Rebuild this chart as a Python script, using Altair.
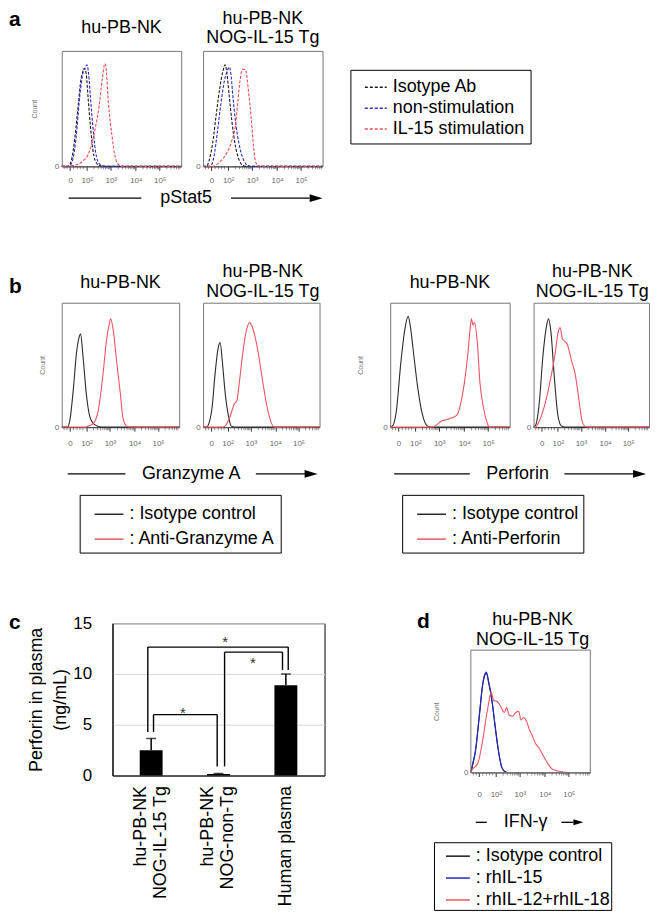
import json
import math
import altair as alt
import pandas as pd

FONT = "Liberation Sans"

# ---------------- flow cytometry axis (biexponential display, fraction of axis) ----
FLOW_TICKS = [0.07, 0.21, 0.41, 0.62, 0.82]
FLOW_TICK_LABELS = ["0", "10²", "10³", "10⁴", "10⁵"]
FLOW_MINOR = [0.02, 0.045, 0.1, 0.13, 0.155, 0.18]
for _start, _w in [(0.21, 0.2), (0.41, 0.21), (0.62, 0.2), (0.82, 0.2)]:
    for _k in range(2, 10):
        _p = _start + _w * math.log10(_k)
        if _p < 0.99:
            FLOW_MINOR.append(round(_p, 3))

# ---------------- panel a : pStat5 ----------------
A_SERIES = ["Isotype Ab", "non-stimulation", "IL-15 stimulation"]
A_COLORS = ["#1a1a1a", "#2a2ad0", "#ee4b57"]
A1_ISOTYPE = [[0, 0], [0.05, 0], [0.08, 0.05], [0.11, 0.25], [0.14, 0.55], [0.16, 0.75], [0.18, 0.83],
              [0.19, 0.85], [0.205, 0.8], [0.22, 0.6], [0.24, 0.35], [0.26, 0.15], [0.28, 0.05],
              [0.31, 0.01], [0.35, 0], [1, 0]]
A1_NONSTIM = [[0, 0], [0.06, 0], [0.09, 0.05], [0.12, 0.25], [0.15, 0.6], [0.18, 0.82], [0.2, 0.86],
              [0.21, 0.88], [0.225, 0.8], [0.24, 0.6], [0.26, 0.35], [0.28, 0.15], [0.3, 0.05],
              [0.33, 0.01], [0.38, 0], [1, 0]]
A1_IL15 = [[0, 0], [0.11, 0.01], [0.18, 0.05], [0.22, 0.1], [0.25, 0.19], [0.28, 0.33], [0.31, 0.5],
           [0.34, 0.76], [0.36, 0.89], [0.37, 0.86], [0.39, 0.56], [0.42, 0.27], [0.45, 0.07],
           [0.48, 0.01], [0.5, 0], [1, 0]]
A2_ISOTYPE = [[0, 0], [0.03, 0], [0.05, 0.05], [0.08, 0.2], [0.11, 0.45], [0.14, 0.68], [0.165, 0.82],
              [0.185, 0.88], [0.2, 0.8], [0.22, 0.6], [0.24, 0.4], [0.27, 0.18], [0.3, 0.06],
              [0.33, 0.01], [0.36, 0], [1, 0]]
A2_NONSTIM = [[0, 0], [0.06, 0], [0.09, 0.08], [0.12, 0.3], [0.15, 0.55], [0.18, 0.75], [0.2, 0.82],
              [0.22, 0.86], [0.235, 0.78], [0.25, 0.6], [0.27, 0.4], [0.3, 0.2], [0.33, 0.08],
              [0.36, 0.02], [0.4, 0], [1, 0]]
A2_IL15 = [[0, 0], [0.08, 0], [0.14, 0.04], [0.2, 0.12], [0.24, 0.22], [0.27, 0.35], [0.29, 0.55],
           [0.31, 0.75], [0.33, 0.84], [0.35, 0.84], [0.36, 0.82], [0.38, 0.65], [0.4, 0.45],
           [0.42, 0.2], [0.435, 0.06], [0.455, 0.01], [0.48, 0], [1, 0]]

# ---------------- panel b : Granzyme A / Perforin ----------------
B_GZMA_SERIES = ["Isotype control", "Anti-Granzyme A"]
B_PRF_SERIES = ["Isotype control", "Anti-Perforin"]
B_COLORS = ["#2b2b2b", "#ee5560"]
B1_ISOTYPE = [[0, 0], [0.05, 0], [0.07, 0.06], [0.1, 0.32], [0.127, 0.61], [0.15, 0.73], [0.16, 0.75],
              [0.18, 0.58], [0.21, 0.26], [0.24, 0.08], [0.28, 0.02], [0.34, 0], [1, 0]]
B1_GZMA = [[0, 0], [0.2, 0], [0.23, 0.01], [0.27, 0.03], [0.31, 0.13], [0.354, 0.45], [0.38, 0.69],
           [0.405, 0.83], [0.416, 0.87], [0.44, 0.77], [0.467, 0.53], [0.5, 0.26], [0.52, 0.08],
           [0.55, 0.01], [0.58, 0], [1, 0]]
B2_ISOTYPE = [[0, 0], [0.03, 0], [0.05, 0.03], [0.08, 0.18], [0.1, 0.4], [0.13, 0.64], [0.146, 0.68],
              [0.165, 0.53], [0.19, 0.27], [0.22, 0.08], [0.24, 0.01], [0.27, 0], [1, 0]]
B2_GZMA = [[0, 0], [0.17, 0], [0.19, 0.01], [0.23, 0.08], [0.27, 0.19], [0.29, 0.21], [0.31, 0.35],
           [0.34, 0.59], [0.37, 0.77], [0.4, 0.84], [0.41, 0.83], [0.455, 0.69], [0.48, 0.56],
           [0.52, 0.32], [0.55, 0.16], [0.58, 0.05], [0.61, 0], [1, 0]]
B3_ISOTYPE = [[0, 0], [0.02, 0.01], [0.05, 0.12], [0.09, 0.53], [0.12, 0.77], [0.15, 0.89], [0.17, 0.8],
              [0.19, 0.64], [0.23, 0.32], [0.27, 0.1], [0.31, 0.01], [0.34, 0], [1, 0]]
B3_PRF = [[0, 0], [0.36, 0], [0.39, 0.02], [0.43, 0.05], [0.47, 0.06], [0.5, 0.07], [0.53, 0.08],
          [0.56, 0.1], [0.59, 0.19], [0.62, 0.35], [0.65, 0.59], [0.67, 0.8], [0.68, 0.87],
          [0.693, 0.82], [0.705, 0.84], [0.73, 0.67], [0.75, 0.37], [0.78, 0.16], [0.81, 0.04],
          [0.83, 0], [1, 0]]
B4_ISOTYPE = [[0, 0], [0.02, 0.02], [0.05, 0.2], [0.08, 0.56], [0.11, 0.8], [0.13, 0.87], [0.15, 0.77],
              [0.18, 0.4], [0.21, 0.1], [0.24, 0.01], [0.27, 0], [1, 0]]
B4_PRF = [[0, 0], [0.02, 0], [0.04, 0.03], [0.1, 0.19], [0.15, 0.4], [0.19, 0.61], [0.21, 0.75],
          [0.23, 0.8], [0.25, 0.71], [0.27, 0.69], [0.29, 0.67], [0.33, 0.53], [0.36, 0.43],
          [0.39, 0.24], [0.42, 0.05], [0.44, 0.01], [0.47, 0], [1, 0]]

# ---------------- panel c : perforin in plasma ----------------
C_CATEGORIES = [["hu-PB-NK", "NOG-IL-15 Tg"], ["hu-PB-NK", "NOG-non-Tg"], ["Human plasma"]]
C_MEANS = [2.5, 0.15, 8.9]
C_UPPER = [3.65, 0.2, 10.0]
C_BRACKET_LEFT = [0.035, 1.09, -0.05]
C_BRACKET_RIGHT = [0.98, 1.95, 2.035]
C_BRACKET_TOP = [6.0, 12.15, 12.65]
C_BRACKET_LEFT_END = [4.3, 0.9, 4.3]
C_BRACKET_RIGHT_END = [0.9, 10.4, 10.4]
C_STAR_X = [0.47, 1.51, 1.1]
C_STAR_Y = [5.64, 10.64, 12.7]

# ---------------- panel d : IFN-gamma ----------------
D_SERIES = ["Isotype control", "rhIL-15", "rhIL-12+rhIL-18"]
D_COLORS = ["#1a1a1a", "#2525c8", "#ee5560"]
D_ISOTYPE = [[0, 0], [0.01, 0.04], [0.04, 0.18], [0.07, 0.45], [0.1, 0.72], [0.12, 0.8], [0.13, 0.81],
             [0.15, 0.73], [0.18, 0.56], [0.2, 0.4], [0.23, 0.18], [0.26, 0.04], [0.29, 0.005],
             [0.32, 0], [1, 0]]
D_IL15 = [[0, 0], [0.01, 0.05], [0.04, 0.19], [0.07, 0.46], [0.1, 0.73], [0.12, 0.81], [0.13, 0.82],
          [0.15, 0.74], [0.18, 0.57], [0.2, 0.41], [0.23, 0.19], [0.26, 0.04], [0.29, 0.005],
          [0.32, 0], [1, 0]]
D_IL12_18 = [[0, 0], [0.01, 0.02], [0.06, 0.08], [0.1, 0.27], [0.13, 0.46], [0.15, 0.57], [0.17, 0.66],
             [0.19, 0.59], [0.22, 0.58], [0.25, 0.54], [0.28, 0.49], [0.3, 0.53], [0.32, 0.47],
             [0.35, 0.46], [0.375, 0.49], [0.4, 0.5], [0.42, 0.43], [0.44, 0.45], [0.47, 0.41],
             [0.49, 0.35], [0.51, 0.31], [0.54, 0.24], [0.57, 0.2], [0.6, 0.15], [0.64, 0.08],
             [0.68, 0.03], [0.74, 0.01], [0.82, 0], [1, 0]]

TITLE_1 = ["hu-PB-NK"]
TITLE_2 = ["hu-PB-NK", "NOG-IL-15 Tg"]

TICK_EXPR = ("[" + ",".join("'%s'" % t for t in FLOW_TICK_LABELS) + "]"
             + "[indexof(" + json.dumps(FLOW_TICKS) + ", datum.value)]")
CAT_EXPR = json.dumps(C_CATEGORIES) + "[datum.value]"
NOSTROKE = alt.ViewBackground(stroke="transparent")


def one(field="r", value=0):
    return pd.DataFrame({field: [value]})


def txt(text, x, y, size=18, weight="normal", align="center", baseline="alphabetic", color="black"):
    return alt.Chart(pd.DataFrame({"t": [text]})).mark_text(
        fontSize=size, fontWeight=weight, align=align, baseline=baseline, color=color
    ).encode(text="t:N", x=alt.value(x), y=alt.value(y))


def hrule(x1, x2, y, width=1.3):
    return alt.Chart(one()).mark_rule(color="black", strokeWidth=width).encode(
        x=alt.value(x1), x2=alt.value(x2), y=alt.value(y))


def arrowhead(x, y, size=169):
    return alt.Chart(one()).mark_point(
        shape="M-1,-0.6L1,0L-1,0.6Z", size=size, filled=True, color="black", opacity=1
    ).encode(x=alt.value(x), y=alt.value(y))


def titles(lines, cx, y_last):
    n = len(lines)
    return [txt(t, cx, y_last - 20 * (n - 1 - i)) for i, t in enumerate(lines)]


def letter(ch, width, y):
    return txt(ch, 0, y, size=21, weight="bold", align="left").properties(
        width=width, height=10, view=NOSTROKE)


def spacer(width, height=10):
    return alt.Chart(one()).mark_point(opacity=0).encode(
        x=alt.value(0), y=alt.value(0)).properties(width=width, height=height, view=NOSTROKE)


def line_legend(x, y, size, row_pad, pad, sym_off=0, dash=False, colon=False, font_size=18,
                trail=0):
    kw = dict(orient="none", legendX=x, legendY=y, title=None, symbolType="stroke",
              symbolSize=size, symbolStrokeWidth=1.5, labelFontSize=font_size, labelFont=FONT,
              labelColor="black", strokeColor="black", padding=pad, rowPadding=row_pad,
              labelLimit=400, labelOffset=5, symbolOffset=sym_off)
    if dash:
        kw["symbolDash"] = [3, 2]
    expr = "datum.label"
    if colon:
        expr = "': ' + " + expr
    if trail:
        expr = expr + " + '" + "\u00a0" * trail + "'"
    if colon or trail:
        kw["labelExpr"] = expr
    return alt.Legend(**kw)


def flow_panel(curves, names, colors, width, height, dash=False, count_pad=None, count_y=None,
               legend=None, label_pad=6, layers=(), y_max=1.0, own_box=False):
    rows = []
    for name, pts in zip(names, curves):
        for x, y in pts:
            rows.append({"series": name, "x": x, "y": y})
    df = pd.DataFrame(rows)
    xscale = alt.Scale(domain=[0, 1], nice=False, zero=False)
    yscale = alt.Scale(domain=[0, y_max], nice=False)
    xaxis = alt.Axis(values=FLOW_TICKS, labelExpr=TICK_EXPR, title=None, grid=False,
                     labelFontSize=8, labelColor="#666", tickSize=4, tickColor="#333",
                     domainColor="#444", labelPadding=label_pad, labelFlush=False,
                     labelOverlap=False)
    ykw = dict(values=[0], labelFontSize=8, labelColor="#666", ticks=False, domain=False,
               grid=False, labelPadding=3)
    if count_pad is not None:
        ykw.update(title="Count", titleFontSize=7, titleColor="#777",
                   titleFontWeight="normal", titlePadding=count_pad)
        if count_y is not None:
            ykw["titleY"] = count_y
    else:
        ykw["title"] = None
    yaxis = alt.Axis(**ykw)
    mkw = dict(strokeWidth=1.1, interpolate="monotone")
    if dash:
        mkw["strokeDash"] = [3, 1.6]
    color = alt.Color("series:N", scale=alt.Scale(domain=names, range=colors), sort=names,
                      legend=legend)
    lines = alt.Chart(df).mark_line(**mkw).encode(
        x=alt.X("x:Q", scale=xscale, axis=xaxis),
        y=alt.Y("y:Q", scale=yscale, axis=yaxis),
        color=color,
    )
    minor = alt.Chart(pd.DataFrame({"x": FLOW_MINOR})).mark_tick(
        orient="vertical", size=3, thickness=0.8, color="#444"
    ).encode(x=alt.X("x:Q", scale=xscale, axis=xaxis), y=alt.value(height + 1.5))
    extra = []
    props = dict(width=width, height=height)
    if own_box:
        box = alt.Chart(pd.DataFrame({"x0": [0], "x1": [1], "y0": [0], "y1": [1]})).mark_rect(
            fillOpacity=0, stroke="#777", strokeWidth=1
        ).encode(x=alt.X("x0:Q", scale=xscale, axis=xaxis), x2="x1:Q",
                 y=alt.Y("y0:Q", scale=yscale, axis=yaxis), y2="y1:Q")
        extra.append(box)
        props["view"] = NOSTROKE
    return alt.layer(lines, minor, *extra, *layers).properties(**props)


# ---------------- build panels ----------------
a1 = flow_panel([A1_ISOTYPE, A1_NONSTIM, A1_IL15], A_SERIES, A_COLORS, 120, 116,
                dash=True, count_pad=17, label_pad=6,
                layers=titles(TITLE_1, 60, -18) + [
                    txt("pStat5", 125, 148, baseline="middle"), hrule(7, 80, 148),
                    hrule(170, 249, 148), arrowhead(255.5, 148)])
a2 = flow_panel([A2_ISOTYPE, A2_NONSTIM, A2_IL15], A_SERIES, A_COLORS, 120, 116,
                dash=True, label_pad=6,
                legend=line_legend(148, 19, 484, -2.5, 5.5, sym_off=8, dash=True, trail=1),
                layers=titles(TITLE_2, 60, -7.5))

b1 = flow_panel([B1_ISOTYPE, B1_GZMA], B_GZMA_SERIES, B_COLORS, 118, 125,
                count_pad=9, label_pad=8,
                legend=line_legend(18, 193, 841, -8, 4, sym_off=10, colon=True, trail=3),
                layers=titles(TITLE_1, 59, -15) + [
                    txt("Granzyme A", 130, 172, baseline="middle"), hrule(6, 64, 172),
                    hrule(195, 245, 172), arrowhead(250.5, 172)])
b2 = flow_panel([B2_ISOTYPE, B2_GZMA], B_GZMA_SERIES, B_COLORS, 117, 125, label_pad=8,
                layers=titles(TITLE_2, 60, -6))
b3 = flow_panel([B3_ISOTYPE, B3_PRF], B_PRF_SERIES, B_COLORS, 120, 125,
                count_pad=19, label_pad=8,
                legend=line_legend(12, 193, 841, -8, 4, sym_off=10, colon=True, trail=8),
                layers=titles(TITLE_1, 60, -15) + [
                    txt("Perforin", 128, 172, baseline="middle"), hrule(4, 80, 172),
                    hrule(175, 244, 172), arrowhead(250.5, 172)])
b4 = flow_panel([B4_ISOTYPE, B4_PRF], B_PRF_SERIES, B_COLORS, 116, 125, label_pad=8,
                layers=titles(TITLE_2, 59, -6))

# d: plot area extends 27 px above its frame so that it lines up with panel c
d = flow_panel([D_ISOTYPE, D_IL15, D_IL12_18], D_SERIES, D_COLORS, 120, 150,
               count_pad=24, count_y=88.5, label_pad=14, y_max=150 / 123, own_box=True,
               legend=line_legend(-37, 220, 576, -2, 1, sym_off=10, colon=True, trail=2),
               layers=titles(TITLE_2, 62, 22) + [
                   txt("d", -54, 5, size=21, weight="bold", align="left"),
                   hrule(5, 16, 200), txt("IFN-γ", 55, 200, baseline="middle"),
                   hrule(91, 103, 200), arrowhead(108, 200, size=100)])

# ---------------- panel c bar chart ----------------
c_df = pd.DataFrame({"idx": [0, 1, 2], "mean": C_MEANS, "upper": C_UPPER})
seg_rows = []
for xl, xr, top, le, re in zip(C_BRACKET_LEFT, C_BRACKET_RIGHT, C_BRACKET_TOP,
                               C_BRACKET_LEFT_END, C_BRACKET_RIGHT_END):
    seg_rows.append({"x": xl, "x2": xl, "y": le, "y2": top})
    seg_rows.append({"x": xl, "x2": xr, "y": top, "y2": top})
    seg_rows.append({"x": xr, "x2": xr, "y": re, "y2": top})
seg_df = pd.DataFrame(seg_rows)
star_df = pd.DataFrame({"x": C_STAR_X, "y": C_STAR_Y, "t": ["*"] * len(C_STAR_X)})

CX_SCALE = alt.Scale(domain=[-0.5, 2.5], nice=False, zero=False)
CY_SCALE = alt.Scale(domain=[0, 15], nice=False)
CX_AXIS = alt.Axis(values=[0, 1, 2], labelExpr=CAT_EXPR, labelAngle=270, labelAlign="right",
                   labelBaseline="middle", labelLineHeight=20, labelFontSize=18, labelColor="black",
                   labelPadding=10, ticks=False, grid=False, domainColor="black", title=None,
                   labelOverlap=False, labelBound=False, labelFlush=False,
                   labelOffset=alt.condition("datum.value == 2", alt.value(0), alt.value(-11)))
CY_AXIS = alt.Axis(values=[0, 5, 10, 15], grid=True, gridColor="#d9d9d9", ticks=False,
                   domainColor="black", labelFontSize=17, labelColor="black", labelPadding=21,
                   title=["Perforin in plasma", "(ng/mL)"], titleFontSize=18,
                   titleFontWeight="normal", titleColor="black", titlePadding=3,
                   titleLineHeight=24)

bars = alt.Chart(c_df).mark_bar(size=23, color="black").encode(
    x=alt.X("idx:Q", scale=CX_SCALE, axis=CX_AXIS),
    y=alt.Y("mean:Q", scale=CY_SCALE, axis=CY_AXIS))
err = alt.Chart(c_df).mark_rule(color="black", strokeWidth=1.5).encode(
    x=alt.X("idx:Q", scale=CX_SCALE, axis=CX_AXIS),
    y=alt.Y("mean:Q", scale=CY_SCALE, axis=CY_AXIS), y2="upper:Q")
cap = alt.Chart(c_df).mark_tick(orient="horizontal", size=10, thickness=1.5, color="black").encode(
    x=alt.X("idx:Q", scale=CX_SCALE, axis=CX_AXIS),
    y=alt.Y("upper:Q", scale=CY_SCALE, axis=CY_AXIS))
brackets = alt.Chart(seg_df).mark_rule(color="black", strokeWidth=1.4).encode(
    x=alt.X("x:Q", scale=CX_SCALE, axis=CX_AXIS), x2="x2:Q",
    y=alt.Y("y:Q", scale=CY_SCALE, axis=CY_AXIS), y2="y2:Q")
stars = alt.Chart(star_df).mark_text(fontSize=15, color="#333", baseline="alphabetic").encode(
    x=alt.X("x:Q", scale=CX_SCALE, axis=CX_AXIS),
    y=alt.Y("y:Q", scale=CY_SCALE, axis=CY_AXIS), text="t:N")
c = alt.layer(bars, err, cap, brackets, stars).properties(
    width=213, height=153, view=alt.ViewBackground(stroke="black"))

# ---------------- layout ----------------
row_a = alt.hconcat(letter("a", 31, -25), a1, a2, spacing=22, bounds="flush").resolve_scale(
    color="independent")
row_b = alt.hconcat(letter("b", 29, -10), b1, b2, spacer(23, 254), b3, b4, spacing=24,
                    bounds="flush").resolve_scale(color="independent")
row_c = alt.hconcat(letter("c", 84, 6), c, spacer(107), d, spacing=20,
                    bounds="flush").resolve_scale(color="independent")

chart = alt.vconcat(row_a, row_b, row_c, spacing=54).resolve_scale(color="independent").properties(
    padding={"left": 0, "top": -2, "right": 0, "bottom": 0}
).configure(font=FONT).configure_view(stroke="#777")

chart.save("out.html", embed_options={"renderer": "svg", "actions": False})
